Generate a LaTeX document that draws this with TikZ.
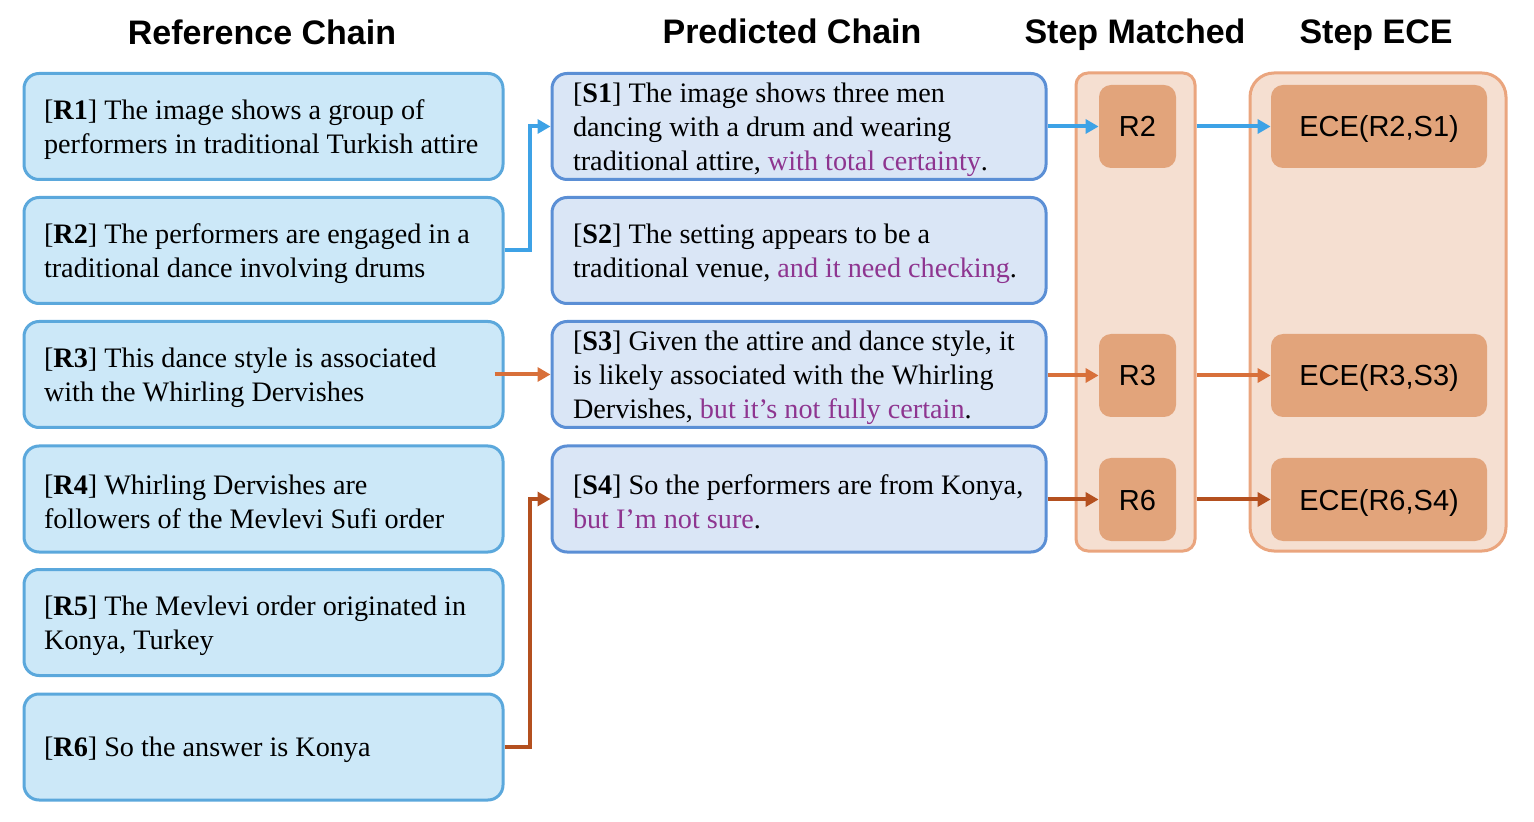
\documentclass[tikz,border=0pt]{standalone}
\usepackage{fontspec}
\setmainfont{Liberation Serif}
\setsansfont{Liberation Sans}
\usetikzlibrary{arrows.meta}
\hyphenpenalty=10000
\definecolor{refFill}{HTML}{CCE8F8}
\definecolor{refLine}{HTML}{5BA8DC}
\definecolor{predFill}{HTML}{DAE6F6}
\definecolor{predLine}{HTML}{5B8FD5}
\definecolor{hedge}{HTML}{8E3590}
\definecolor{peach}{HTML}{F5DFD1}
\definecolor{peachLine}{HTML}{EAA57E}
\definecolor{clay}{HTML}{E2A47B}
\definecolor{arrBlue}{HTML}{3DA2E6}
\definecolor{arrOrange}{HTML}{D8703A}
\definecolor{arrBrown}{HTML}{B4501F}
\begin{document}
\begin{tikzpicture}[x=0.5pt,y=-0.5pt,
  title/.style={anchor=base, font=\sffamily\bfseries\fontsize{17}{20}\selectfont},
  refbox/.style={draw=refLine, fill=refFill, line width=1.5pt, rounded corners=7.5pt,
    minimum width=239.5pt, minimum height=53pt, text width=219.5pt, inner xsep=10pt,
    inner ysep=0.5pt, align=flush left, font=\fontsize{14.1}{17}\selectfont,
    execute at begin node={\rule{0pt}{13pt}}},
  predbox/.style={refbox, draw=predLine, fill=predFill, minimum width=247pt,
    text width=226pt, inner xsep=10.5pt},
  column/.style={draw=peachLine, fill=peach, line width=1.5pt, minimum height=239pt},
  chip/.style={fill=clay, rounded corners=6pt, minimum height=41.5pt,
    text height=10.5pt, text depth=0pt, font=\sffamily\fontsize{14.5}{17}\selectfont},
  conn/.style={line width=2pt, -{Triangle[length=6.5pt,width=7pt]}}]
\useasboundingbox (0,0) rectangle (1534,822);
\node[title] at (262,45) {Reference Chain};
\node[title] at (792,44) {Predicted Chain};
\node[title] at (1135,44) {Step Matched};
\node[title] at (1376,44) {Step ECE};
\node[refbox] (r1) at (263.5,126.5) {[\textbf{R1}] The image shows a group of\\performers in traditional Turkish attire};
\node[refbox] (r2) at (263.5,250.5) {[\textbf{R2}] The performers are engaged in a\\traditional dance involving drums};
\node[refbox] (r3) at (263.5,374.5) {[\textbf{R3}] This dance style is associated\\with the Whirling Dervishes};
\node[refbox] (r4) at (263.5,499) {[\textbf{R4}] Whirling Dervishes are\\followers of the Mevlevi Sufi order};
\node[refbox] (r5) at (263.5,622.5) {[\textbf{R5}] The Mevlevi order originated in\\Konya, Turkey};
\node[refbox] (r6) at (263.5,747) {[\textbf{R6}] So the answer is Konya};
\node[predbox] (s1) at (799,126.5) {[\textbf{S1}] The image shows three men\\dancing with a drum and wearing\\traditional attire, \textcolor{hedge}{with total certainty}.};
\node[predbox] (s2) at (799,250.5) {[\textbf{S2}] The setting appears to be a\\traditional venue, \textcolor{hedge}{and it need checking}.};
\node[predbox] (s3) at (799,374.5) {[\textbf{S3}] Given the attire and dance style, it\\is likely associated with the Whirling\\Dervishes, \textcolor{hedge}{but it’s not fully certain}.};
\node[predbox] (s4) at (799,499) {[\textbf{S4}] So the performers are from Konya,\\\textcolor{hedge}{but I’m not sure}.};
\node[column, rounded corners=6pt, minimum width=59.5pt] (matchcol) at (1135.5,312) {};
\node[column, rounded corners=12pt, minimum width=128pt] (ececol) at (1378,312) {};
\node[chip, minimum width=38.5pt] (m2) at (1137.5,126.5) {R2};
\node[chip, minimum width=38.5pt] (m3) at (1137.5,375.5) {R3};
\node[chip, minimum width=38.5pt] (m6) at (1137.5,499.5) {R6};
\node[chip, minimum width=108pt] (e1) at (1379,126.5) {ECE(R2,S1)};
\node[chip, minimum width=108pt] (e3) at (1379,375.5) {ECE(R3,S3)};
\node[chip, minimum width=108pt] (e4) at (1379,499.5) {ECE(R6,S4)};
\draw[conn, arrBlue] (r2.east) -- ++(25,0) |- (s1.west);
\draw[conn, arrOrange, shorten <=-5pt] (r3.east) -- (s3.west);
\draw[conn, arrBrown] (r6.east) -- ++(25,0) |- (s4.west);
\draw[conn, arrBlue] (s1.east) -- (m2.west);
\draw[conn, arrOrange] (s3.east |- m3.west) -- (m3.west);
\draw[conn, arrBrown] (s4.east |- m6.west) -- (m6.west);
\draw[conn, arrBlue] (matchcol.east |- e1.west) -- (e1.west);
\draw[conn, arrOrange] (matchcol.east |- e3.west) -- (e3.west);
\draw[conn, arrBrown] (matchcol.east |- e4.west) -- (e4.west);
\end{tikzpicture}
\end{document}
